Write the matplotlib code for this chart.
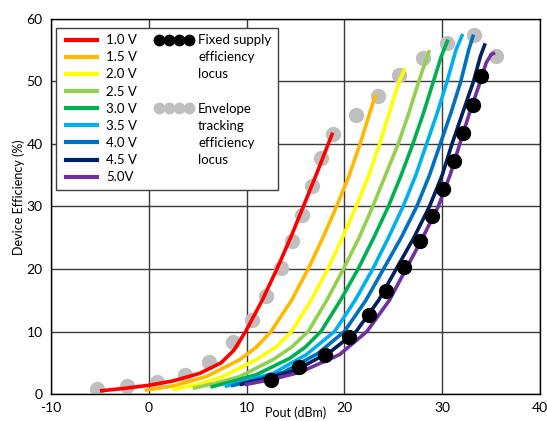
import matplotlib
matplotlib.use("Agg")
import matplotlib.pyplot as plt
from matplotlib.lines import Line2D

# curves: Pout (dBm) vs device efficiency (%)
v10_x = [-5.0, -2.5, 0.0, 2.5, 5.2, 7.4, 8.7, 9.9, 11.6, 13.1, 14.5, 15.8, 17.1, 18.1, 18.8]
v10_y = [0.5, 0.9, 1.4, 2.1, 3.3, 5.0, 7.0, 10.0, 15.0, 20.0, 25.0, 30.0, 35.0, 39.0, 41.8]
v15_x = [-0.4, 2.5, 5.9, 9.3, 11.0, 12.5, 14.6, 16.3, 17.8, 19.2, 20.5, 21.6, 22.6, 23.2]
v15_y = [0.6, 1.3, 2.8, 5.5, 7.5, 10.0, 15.0, 20.0, 25.0, 30.0, 35.0, 40.0, 45.0, 47.9]
v20_x = [2.4, 5.0, 7.6, 11.0, 13.0, 14.6, 16.6, 18.3, 19.8, 21.2, 22.5, 23.6, 24.6, 25.6, 26.2]
v20_y = [0.7, 1.5, 2.8, 5.5, 7.5, 10.0, 15.0, 20.0, 25.0, 30.0, 35.0, 40.0, 45.0, 50.0, 52.1]
v25_x = [4.5, 7.0, 9.3, 12.7, 14.6, 16.3, 18.2, 19.9, 21.5, 22.9, 24.2, 25.5, 26.6, 27.6, 28.7]
v25_y = [0.9, 1.8, 2.8, 5.5, 7.5, 10.0, 15.0, 20.0, 25.0, 30.0, 35.0, 40.0, 45.0, 50.0, 55.0]
v30_x = [6.3, 8.5, 11.0, 14.4, 16.0, 17.6, 19.6, 21.4, 23.0, 24.5, 25.8, 27.0, 28.1, 29.1, 29.9, 30.6]
v30_y = [1.1, 2.0, 3.1, 5.7, 7.5, 10.0, 15.0, 20.0, 25.0, 30.0, 35.0, 40.0, 45.0, 50.0, 54.0, 56.7]
v35_x = [7.75, 10.0, 12.7, 16.1, 19.0, 21.1, 22.9, 24.5, 26.0, 27.3, 28.4, 29.5, 30.5, 31.4, 32.1]
v35_y = [1.2, 2.2, 3.3, 6.3, 10.0, 15.0, 20.0, 25.0, 30.0, 35.0, 40.0, 45.0, 50.0, 55.0, 57.6]
v40_x = [8.4, 11.0, 13.8, 17.3, 20.0, 22.2, 24.0, 25.8, 27.4, 28.7, 29.8, 30.9, 31.9, 32.7, 33.2]
v40_y = [1.3, 2.3, 3.5, 6.5, 10.0, 15.0, 20.0, 25.0, 30.0, 35.0, 40.0, 45.0, 50.0, 55.0, 57.5]
v45_x = [9.3, 12.0, 15.0, 18.6, 21.2, 23.5, 25.3, 27.1, 28.7, 30.0, 31.0, 32.1, 33.2, 33.9, 34.4]
v45_y = [1.5, 2.5, 3.8, 6.8, 10.0, 15.0, 20.0, 25.0, 30.0, 35.0, 40.0, 45.0, 50.0, 54.0, 56.1]
v50_x = [9.8, 12.5, 15.5, 19.5, 22.3, 24.6, 26.3, 28.0, 29.6, 30.8, 31.8, 32.8, 33.9, 34.5, 35.0, 35.4]
v50_y = [1.5, 2.3, 3.5, 6.3, 10.0, 15.0, 20.0, 25.0, 30.0, 35.0, 40.0, 45.0, 50.0, 53.0, 54.3, 54.6]

fixed_x = [12.5, 15.4, 18.0, 20.5, 22.5, 24.3, 26.1, 27.7, 29.0, 30.1, 31.2, 32.1, 33.1, 34.0]
fixed_y = [2.3, 4.3, 6.3, 9.2, 12.7, 16.4, 20.3, 24.4, 28.4, 32.8, 37.2, 41.7, 46.3, 50.8]

env_x = [-5.3, -2.2, 0.8, 3.7, 6.2, 8.6, 10.6, 12.0, 13.5, 14.6, 15.7, 16.7, 17.6, 18.8,
         21.2, 23.4, 25.6, 28.0, 30.5, 33.3, 35.5]
env_y = [0.8, 1.3, 2.0, 3.0, 5.2, 8.3, 11.9, 15.7, 20.1, 24.4, 28.7, 33.3, 37.7, 41.6,
         44.7, 47.7, 51.0, 53.7, 56.1, 57.5, 54.0]

labels = ["1.0 V", "1.5 V", "2.0 V", "2.5 V", "3.0 V", "3.5 V", "4.0 V", "4.5 V", "5.0V"]
colors = ["#FF0000", "#FFB900", "#FFFF00", "#92D050", "#00B050",
          "#00B0F0", "#0070C0", "#002060", "#7030A0"]


def main():
    plt.rcParams["font.family"] = ["Lato", "DejaVu Sans"]
    plt.rcParams["axes.unicode_minus"] = False
    fig = plt.figure(figsize=(5.47, 4.21), dpi=100)
    ax = fig.add_axes([0.0932, 0.0641, 0.8940, 0.8909])

    curves = [(v10_x, v10_y), (v15_x, v15_y), (v20_x, v20_y), (v25_x, v25_y), (v30_x, v30_y),
              (v35_x, v35_y), (v40_x, v40_y), (v45_x, v45_y), (v50_x, v50_y)]

    ax.plot(env_x, env_y, "o", color="#BFBFBF", markersize=10, zorder=2)
    for (x, y), c in zip(curves, colors):
        ax.plot(x, y, color=c, lw=2.6, solid_capstyle="butt", zorder=3)
    ax.plot(fixed_x, fixed_y, "o", color="black", markersize=10, zorder=4)

    ax.set_xlim(-10, 40)
    ax.set_ylim(0, 60)
    ax.set_xticks(range(-10, 41, 10))
    ax.set_yticks(range(0, 61, 10))
    ax.grid(True, color="#3a3a3a", lw=1.0)
    ax.set_axisbelow(True)
    ax.tick_params(length=0, labelsize=10, pad=6)
    for s in ax.spines.values():
        s.set_color("black")
        s.set_linewidth(1.0)
    ax.set_xlabel("Pout (dBm)", fontsize=9)
    ax.set_ylabel("Device Efficiency (%)", fontsize=9)
    ax.xaxis.set_label_coords(0.5, -0.034)
    ax.yaxis.set_label_coords(-0.054, 0.525)

    # legend: 9 voltage lines in col 1, the two loci with wrapped labels in col 2
    handles = [Line2D([], [], color=c, lw=3) for c in colors]
    blank = Line2D([], [], linestyle="none")
    fixed_h = Line2D([], [], linestyle="none", marker="o", color="black", markersize=7.5)
    env_h = Line2D([], [], linestyle="none", marker="o", color="#BFBFBF", markersize=7.5)
    handles += [fixed_h, blank, blank, blank, env_h, blank, blank, blank, blank]
    leg_labels = labels + ["Fixed supply", "efficiency", "locus", " ",
                           "Envelope", "tracking", "efficiency", "locus", " "]
    leg = ax.legend(handles, leg_labels, ncol=2, loc="upper left",
                    bbox_to_anchor=(0.0096, 0.977), borderaxespad=0,
                    fontsize=9.5, numpoints=4, handlelength=2.9, handletextpad=0.4,
                    columnspacing=1.35, labelspacing=0.39, borderpad=0.5,
                    fancybox=False, framealpha=1, edgecolor="#404040")
    leg.get_frame().set_linewidth(1.0)

    fig.savefig("out.png", dpi=100)


if __name__ == "__main__":
    main()
